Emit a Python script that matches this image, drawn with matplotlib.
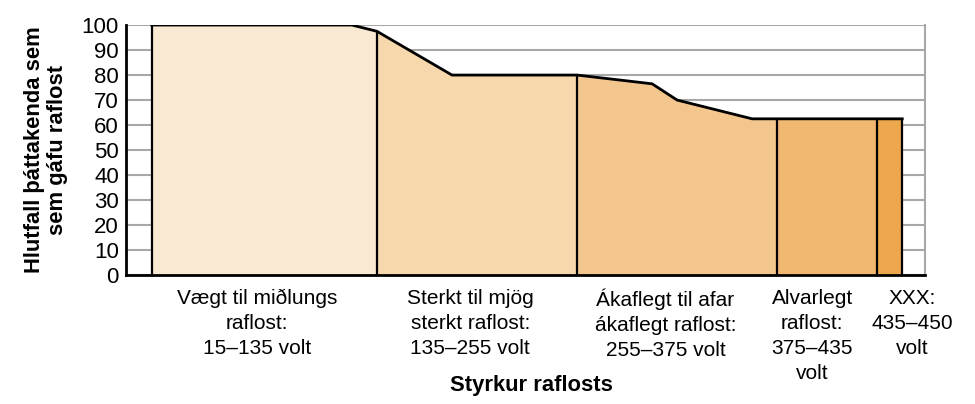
import numpy as np
import matplotlib
matplotlib.use("Agg")
import matplotlib.pyplot as plt
from matplotlib import font_manager

# voltage (x) and share of participants still shocking (y)
volts = [0, 120, 135, 180, 255, 300, 315, 360, 375, 435, 450]
percent = [100, 100, 97.5, 80, 80, 76.5, 70, 62.5, 62.5, 62.5, 62.5]

# shock-level zones
zone_edges = [0, 135, 255, 375, 435, 450]
zone_labels = [
    "Vægt til miðlungs\nraflost:\n15–135 volt",
    "Sterkt til mjög\nsterkt raflost:\n135–255 volt",
    "Ákaflegt til afar\nákaflegt raflost:\n255–375 volt",
    "Alvarlegt\nraflost:\n375–435\nvolt",
    "XXX:\n435–450\nvolt",
]
zone_colors = ["#F9E8D2", "#F7D8AC", "#F3C68E", "#F1B872", "#EDA74C"]
label_x = [63, 191, 308, 396, 456]

y_ticks = list(range(0, 101, 10))

names = {f.name for f in font_manager.fontManager.ttflist}
narrow = "Liberation Sans Narrow" if "Liberation Sans Narrow" in names else "Liberation Sans"

fig = plt.figure(figsize=(9.75, 4.04), dpi=100)
ax = fig.add_axes([0.129, 0.319, 0.82, 0.619])

x = np.array(volts, dtype=float)
y = np.array(percent, dtype=float)

for i in range(len(zone_colors)):
    lo, hi = zone_edges[i], zone_edges[i + 1]
    m = (x >= lo) & (x <= hi)
    ax.fill_between(x[m], 0, y[m], color=zone_colors[i], lw=0, zorder=2)

# zone dividers
for e in zone_edges:
    top = percent[volts.index(e)]
    ax.plot([e, e], [0, top], color="black", lw=1.6, zorder=3, solid_capstyle="butt")

ax.plot(volts, percent, color="black", lw=2, zorder=4, solid_joinstyle="miter")

ax.set_xlim(-15.6, 463.8)
ax.set_ylim(0, 100)
ax.set_yticks(y_ticks)
ax.set_yticklabels([str(t) for t in y_ticks], fontsize=16, family=narrow)
ax.tick_params(axis="y", length=0, pad=5)
ax.set_xticks([])
ax.yaxis.grid(True, color="#A8A8A8", lw=1.5, zorder=0)
ax.set_axisbelow(True)

ax.spines["top"].set_visible(False)
ax.spines["right"].set_color("#A8A8A8")
ax.spines["right"].set_linewidth(1.5)
ax.spines["left"].set_linewidth(2)
ax.spines["bottom"].set_linewidth(2)

for lx, lab in zip(label_x, zone_labels):
    ax.text(lx, -5.5, lab, ha="center", va="top", fontsize=15, family=narrow,
            linespacing=1.4, transform=ax.transData, clip_on=False)

ax.set_ylabel("Hlutfall þáttakenda sem\nsem gáfu raflost", fontsize=15.8,
              fontweight="bold", family="Liberation Sans", linespacing=1.1, labelpad=10)
fig.text(0.545, 0.047, "Styrkur raflosts", ha="center", va="center", fontsize=15.8,
         fontweight="bold", family="Liberation Sans")

fig.savefig("out.png", dpi=100)
